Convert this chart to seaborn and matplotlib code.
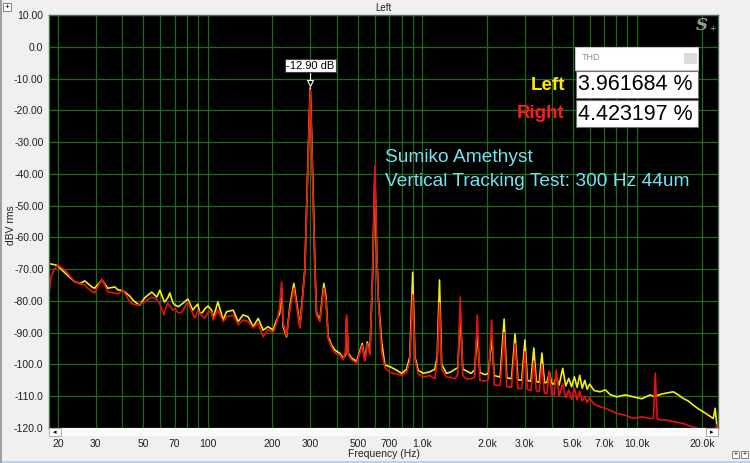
import matplotlib
matplotlib.use("Agg")
import matplotlib.pyplot as plt
import matplotlib.patches as mpatches
import seaborn as sns
import pandas as pd

# spectrum: frequency (Hz), Left (yellow) and Right (red) in dBV rms
freq_hz = [
    18.3, 18.6, 19.3, 20.0, 21.6, 24.0, 25.4, 26.7, 27.6, 28.8, 29.7, 32.1, 34.2, 36.9, 38.1,
    40.2, 41.0, 43.3, 44.7, 47.2, 48.2, 50.8, 54.8, 57.8, 59.8, 62.4, 63.0, 65.1, 66.5, 68.7,
    70.2, 73.0, 75.7, 80.7, 85.1, 87.0, 89.8, 91.8, 94.8, 96.8, 100.3, 104.4, 105.8, 111.4,
    117.9, 122.2, 131.2, 138.4, 146, 154, 162.6, 171.6, 181, 191, 201.6, 209, 216, 220.6,
    224.4, 232.6, 241, 251.6, 263.6, 268.5, 276, 283, 290, 296, 300, 304, 310, 315, 321,
    332.6, 347, 355, 363.6, 377, 391, 412, 427, 438, 443, 451, 467, 493, 524, 539, 553, 569,
    585, 600, 611, 622, 645, 668, 705, 757, 799, 843, 873, 900, 922, 955, 1008, 1083, 1142,
    1171, 1200, 1228, 1294, 1350, 1420, 1460, 1500, 1540, 1600, 1680, 1750, 1800, 1850, 1950,
    2030, 2100, 2160, 2300, 2400, 2470, 2600, 2700, 2780, 2900, 3000, 3080, 3200, 3300, 3390,
    3500, 3600, 3700, 3800, 3900, 4000, 4100, 4200, 4330, 4500, 4650, 4800, 4950, 5100, 5250,
    5400, 5550, 5700, 5850, 6000, 6300, 6710, 7100, 7500, 8025, 8800, 9594, 10500, 11472,
    11900, 12150, 12400, 13000, 13720, 14730, 15500, 16400, 17300, 18250, 19300, 20330,
    21500, 22630, 23080, 23500, 23800,
]
left_dbv = [
    -68.2, -68.4, -68.6, -68.9, -71.2, -74.0, -74.5, -73.7, -74.5, -75.6, -76.0, -73.4, -76.0, -75.6, -76.5,
    -76.8, -77.2, -78.5, -79.7, -81.0, -81.3, -79.0, -77.2, -78.8, -76.6, -80.0, -80.3, -79.0, -77.5, -80.5,
    -81.3, -81.8, -81.0, -79.4, -82.9, -82.0, -81.0, -84.0, -83.5, -82.5, -81.6, -83.0, -85.5, -80.3,
    -86.0, -83.4, -82.9, -86.5, -84.4, -85.0, -88.1, -85.5, -89.2, -88.1, -89.2, -86.0, -84.0, -76.0,
    -88.1, -91.3, -81.8, -74.5, -84.0, -88.1, -78.7, -70.3, -45.0, -25.0, -12.9, -26.0, -48.0, -68.0, -84.0,
    -86.0, -74.5, -78.7, -91.3, -93.9, -95.5, -96.5, -98.0, -97.0, -85.5, -96.5, -98.0, -99.0, -93.4, -98.6, -92.9, -96.5,
    -72.4, -40.0, -63.0, -78.7, -93.0, -100.2, -100.7, -101.8, -102.8, -101.5, -97.6, -71.0, -97.6, -101.8, -102.8, -102.3, -101.5,
    -97.6, -73.4, -100.0, -102.8, -102.4, -101.5, -101.0, -84.0, -101.5, -102.0, -102.8, -101.8, -90.0, -102.5, -103.2,
    -102.8, -91.4, -103.5, -104.0, -85.7, -104.2, -104.5, -90.4, -104.8, -105.0, -92.3, -105.0, -105.3, -94.8, -105.4,
    -105.6, -96.4, -105.8, -105.6, -102.5, -106.0, -106.2, -104.0, -106.5, -101.2, -106.8, -104.4, -107.0, -103.9, -107.2,
    -103.4, -107.5, -105.0, -107.8, -106.2, -108.2, -108.6, -108.0, -109.5, -110.2, -109.6, -110.2, -110.8, -109.6,
    -110.0, -110.0, -109.8, -109.3, -109.0, -108.6, -109.5, -110.7, -111.5, -112.8, -114.0, -114.9,
    -116.0, -117.0, -113.8, -119.0, -121.0,
]
right_dbv = [
    -76.5, -72.5, -70.0, -68.7, -70.3, -74.0, -74.6, -75.0, -76.0, -77.0, -77.5, -73.1, -77.2, -77.5, -77.8,
    -76.6, -77.5, -80.3, -81.0, -81.3, -81.0, -80.3, -78.8, -79.5, -81.0, -84.4, -83.0, -80.7, -81.5, -82.9,
    -82.5, -83.8, -83.5, -80.3, -84.0, -85.4, -83.0, -83.8, -85.0, -85.4, -83.5, -83.5, -86.0, -82.9,
    -86.5, -85.0, -84.5, -87.5, -86.0, -86.5, -88.5, -87.0, -91.3, -89.0, -90.0, -87.0, -82.0, -74.0,
    -87.0, -91.0, -83.0, -76.0, -85.0, -88.5, -79.5, -70.5, -46.0, -26.0, -13.6, -27.0, -50.0, -69.0, -84.5,
    -86.5, -76.0, -80.0, -92.0, -94.5, -96.5, -97.0, -98.5, -96.0, -84.4, -97.0, -98.5, -99.6, -94.0, -99.0, -93.5, -97.0,
    -72.0, -37.5, -62.0, -79.5, -96.0, -101.0, -102.5, -103.0, -103.4, -102.5, -99.0, -78.0, -98.5, -103.0, -104.0, -103.5, -104.5,
    -99.0, -80.6, -101.5, -104.0, -104.0, -104.5, -103.0, -78.8, -103.5, -104.5, -104.5, -104.0, -84.4, -105.0, -105.2,
    -104.8, -86.0, -106.5, -106.6, -90.0, -107.0, -107.1, -93.5, -107.5, -107.6, -96.0, -107.8, -108.2, -99.0, -108.3,
    -108.5, -100.0, -109.0, -109.2, -102.0, -109.6, -109.5, -101.7, -110.0, -106.0, -110.5, -108.0, -111.0, -107.5, -111.2,
    -108.5, -111.5, -110.0, -112.0, -110.5, -112.5, -113.3, -113.8, -114.5, -115.4, -116.0, -117.0, -116.5, -117.0,
    -117.0, -102.7, -117.2, -117.5, -117.5, -118.0, -118.3, -118.6, -119.2, -119.7, -120.2, -120.8,
    -121.0, -121.0, -121.0, -119.0, -121.0,
]

x_ticks = [20, 30, 50, 70, 100, 200, 300, 500, 700, 1000, 2000, 3000, 5000, 7000, 10000, 20000]
x_tick_labels = ["20", "30", "50", "70", "100", "200", "300", "500", "700",
                 "1.0k", "2.0k", "3.0k", "5.0k", "7.0k", "10.0k", "20.0k"]
y_ticks = [10, 0, -10, -20, -30, -40, -50, -60, -70, -80, -90, -100, -110, -120]
y_tick_labels = ["10.00", "0.0", "-10.00", "-20.00", "-30.00", "-40.00", "-50.00", "-60.00",
                 "-70.00", "-80.00", "-90.00", "-100.0", "-110.0", "-120.0"]
thd_left = "3.961684 %"
thd_right = "4.423197 %"
peak_freq = 300
peak_label = "-12.90 dB"

W, H = 750, 463
BG = "#f0f0f0"
GRID = "#1d6b1d"
YELLOW = "#f2ee10"
RED = "#e81010"
CYAN = "#70e4f0"

sns.set_theme(style="dark", rc={"axes.facecolor": "black", "figure.facecolor": BG})
plt.rcParams["font.family"] = ["Liberation Sans", "DejaVu Sans"]

df = pd.DataFrame({"freq": freq_hz, "left": left_dbv, "right": right_dbv})


def fx(px):
    return px / W


def fy(py):
    return 1 - py / H


fig = plt.figure(figsize=(W / 100, H / 100), dpi=100, facecolor=BG)
ax = fig.add_axes([fx(49), fy(428), 669 / W, 413 / H])
ax.set_facecolor("black")

sns.lineplot(data=df, x="freq", y="left", color=YELLOW, lw=1.2, estimator=None, sort=False, ax=ax)
sns.lineplot(data=df, x="freq", y="right", color=RED, lw=1.2, estimator=None, sort=False, ax=ax)

ax.set_xscale("log")
ax.set_xlim(18.2, 23800)
ax.set_ylim(-120, 10)

minor = [m * 10 ** k for k in range(1, 5) for m in range(2, 10)]
minor = [v for v in minor if 18.2 < v < 23800 and v not in x_ticks]
ax.set_xticks(x_ticks)
ax.set_xticklabels(x_tick_labels)
ax.set_xticks(minor, minor=True)
ax.set_xticklabels([], minor=True)
ax.set_yticks(y_ticks)
ax.set_yticklabels(y_tick_labels)
ax.grid(True, which="both", color=GRID, lw=0.9)
ax.tick_params(axis="both", which="both", length=0, labelsize=7.5, colors="#202020")
ax.tick_params(axis="x", pad=8)
ax.tick_params(axis="y", pad=4)
for s in ax.spines.values():
    s.set_color("#4a6a4a")
    s.set_linewidth(1.0)

ax.set_xlabel("Frequency (Hz)", fontsize=7.5, color="#202020", labelpad=0)
ax.set_ylabel("")
fig.text(fx(11), fy(225), "dBV rms", rotation=90, fontsize=7.5, color="#202020",
         ha="center", va="center")
ax.set_title("Left", fontsize=7, color="#202020", pad=3)

# cursor readout at the fundamental
ax.plot([peak_freq, peak_freq], [-8.4, -10.6], color="white", lw=0.8)
ax.plot([peak_freq], [-11.3], marker="v", ms=5, mfc="black", mec="white", mew=0.8)
ax.text(peak_freq, -6.0, peak_label, ha="center", va="center", fontsize=8, color="black",
        bbox=dict(boxstyle="square,pad=0.12", fc="white", ec="#404040", lw=0.8))

# annotation text
fig.text(fx(385), fy(158), "Sumiko Amethyst", fontsize=13.8, color=CYAN, va="center")
fig.text(fx(385), fy(182), "Vertical Tracking Test: 300 Hz 44um", fontsize=13.8, color=CYAN, va="center")

# THD panel
fig.add_artist(mpatches.Rectangle((fx(575), fy(70)), 123 / W, 23 / H, transform=fig.transFigure,
                                  fc="white", ec="#c8c8c8", lw=0.8))
fig.add_artist(mpatches.Rectangle((fx(684), fy(64)), 13 / W, 11 / H, transform=fig.transFigure,
                                  fc="#dcdcdc", ec="none"))
fig.text(fx(582), fy(58), "THD", fontsize=6.5, color="#909090", va="center")
for i, (name, val, col) in enumerate([("Left", thd_left, "#ffe600"), ("Right", thd_right, "#ff1a1a")]):
    top = 71 + i * 29
    fig.add_artist(mpatches.Rectangle((fx(576), fy(top + 27)), 122 / W, 27 / H, transform=fig.transFigure,
                                      fc="white", ec="#707070", lw=0.8))
    fig.text(fx(578), fy(top + 14), val, fontsize=15.5, color="black", va="center")
    fig.text(fx(565), fy(top + 14), name, fontsize=13.5, color=col, fontweight="bold",
             ha="right", va="center")

# logo
fig.text(fx(696), fy(26), "S", fontsize=12, color="#9a9a9a", family="DejaVu Serif",
         style="italic", fontweight="bold", va="center")
fig.text(fx(709), fy(29), "+", fontsize=8, color="#9a9a9a", va="center")

# scroll strip under the plot
fig.add_artist(mpatches.Rectangle((fx(49), fy(436)), 669 / W, 8 / H, transform=fig.transFigure,
                                  fc="#fafafa", ec="none"))
for bx, glyph in ((49, "\u25c2"), (706, "\u25b8")):
    fig.add_artist(mpatches.Rectangle((fx(bx), fy(436)), 12 / W, 8 / H, transform=fig.transFigure,
                                      fc="white", ec="#a0a0a0", lw=0.6))
    fig.text(fx(bx + 6), fy(432), glyph, fontsize=5, ha="center", va="center", color="black",
             family="DejaVu Sans")

# window chrome
fig.add_artist(mpatches.Rectangle((fx(3), fy(11)), 8 / W, 8 / H, transform=fig.transFigure,
                                  fc="white", ec="#707070", lw=0.6))
fig.text(fx(7), fy(7), "+", fontsize=6, ha="center", va="center", color="black")
for bx in (732, 741):
    fig.add_artist(mpatches.Rectangle((fx(bx), fy(458)), 7 / W, 7 / H, transform=fig.transFigure,
                                      fc="white", ec="#707070", lw=0.6))
    fig.text(fx(bx + 3.5), fy(454.5), "+", fontsize=5, ha="center", va="center", color="black")
fig.add_artist(mpatches.Rectangle((0, 0), 1, 2.5 / H, transform=fig.transFigure,
                                  fc="#b9d1ea", ec="none"))
fig.add_artist(mpatches.Rectangle((0, 0), 1.5 / W, 1, transform=fig.transFigure,
                                  fc="#a0a0a0", ec="none"))

fig.savefig("out.png", dpi=100, facecolor=BG)
